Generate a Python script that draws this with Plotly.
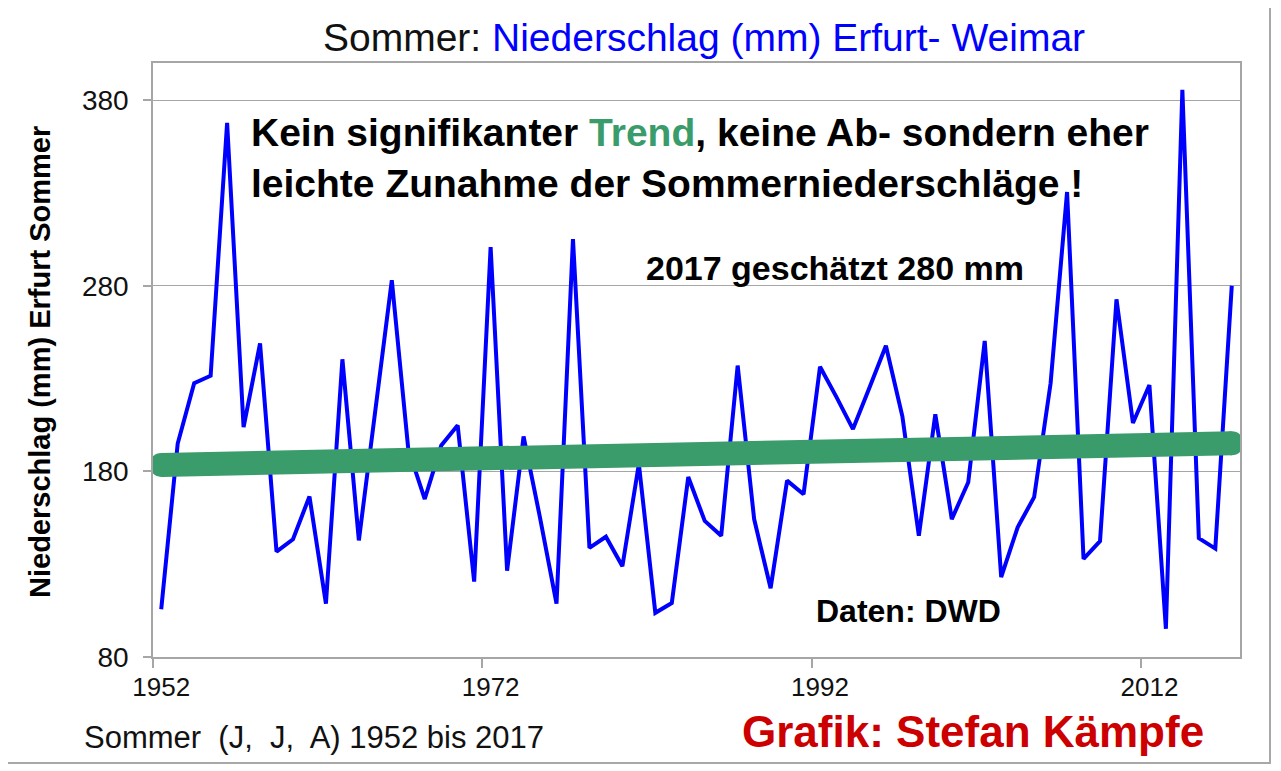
import plotly.graph_objects as go

# ---------------- data ----------------
years = list(range(1952, 2018))
precip_mm = [
    105.7, 195.0, 227.5, 231.5, 367.7, 203.8, 248.9, 136.8, 143.4, 166.5,   # 1952-1961
    108.7, 240.4, 142.8, 211.0, 283.0, 192.0, 165.1, 193.9, 204.8, 120.6,   # 1962-1971
    300.8, 126.5, 198.8, 155.0, 108.7, 305.1, 138.8, 144.8, 128.9, 184.0,   # 1972-1981
    103.8, 109.1, 177.0, 153.3, 145.3, 237.0, 154.3, 117.0, 175.0, 167.7,   # 1982-1991
    236.4, 220.0, 202.8, 225.0, 247.7, 209.7, 145.3, 210.7, 154.3, 174.1,   # 1992-2001
    250.3, 123.0, 149.9, 166.1, 227.5, 330.5, 132.9, 142.4, 272.7, 206.1,   # 2002-2011
    226.5, 95.2, 385.5, 144.0, 138.4, 280.0                                 # 2012-2017
]
trend_years = [1952, 2017]
trend_mm = [183.5, 195.1]

tick_years = [1952, 1972, 1992, 2012]
y_ticks = [80, 180, 280, 380]

# ---------------- style ----------------
FONT = "Liberation Sans, Arial, sans-serif"
BLUE = "#0000FF"
GREEN = "#3A9B6B"
RED = "#CC0000"
GRID = "#a6a6a6"

fig = go.Figure()
fig.add_trace(go.Scatter(
    x=years, y=precip_mm, mode="lines",
    line=dict(color=BLUE, width=4),
    hoverinfo="x+y",
))
fig.add_trace(go.Scatter(
    x=trend_years, y=trend_mm, mode="lines+markers",
    line=dict(color=GREEN, width=24),
    marker=dict(size=24, color=GREEN, line=dict(width=0)),
    hoverinfo="skip",
))

# page geometry (the browser puts the figure at an 8px body margin)
W, H = 1281, 771
OFF = 8
SL, SR, ST, SB = 153, 1240, 63, 657          # plot area on screen
ML, MT = SL - OFF, ST - OFF
MR, MB = W - (SR - OFF), H - (SB - OFF)


def px(x):
    return (x - SL) / (SR - SL)


def py(y):
    return (SB - y) / (SB - ST)


annotations = [
    dict(x=px(704), y=py(38), xref="paper", yref="paper", showarrow=False,
         xanchor="center", yanchor="middle",
         text="Sommer: <span style='color:%s'>Niederschlag (mm) Erfurt- Weimar</span>" % BLUE,
         font=dict(family=FONT, size=39, color="#111111")),
    dict(x=px(249), y=py(158), xref="paper", yref="paper", showarrow=False,
         xanchor="left", yanchor="middle", align="left",
         text="<b>Kein signifikanter <span style='color:%s'>Trend</span>, keine Ab- sondern eher</b><br>"
              "<b>leichte Zunahme der Sommerniederschläge !</b>" % GREEN,
         font=dict(family=FONT, size=39, color="#000000")),
    dict(x=px(835), y=py(268), xref="paper", yref="paper", showarrow=False,
         xanchor="center", yanchor="middle",
         text="<b>2017 geschätzt 280 mm</b>",
         font=dict(family=FONT, size=34, color="#000000")),
    dict(x=px(908), y=py(611), xref="paper", yref="paper", showarrow=False,
         xanchor="center", yanchor="middle",
         text="<b>Daten: DWD</b>",
         font=dict(family=FONT, size=32, color="#000000")),
    dict(x=px(40), y=py(362), xref="paper", yref="paper", showarrow=False,
         xanchor="center", yanchor="middle", textangle=-90,
         text="<b>Niederschlag (mm) Erfurt Sommer</b>",
         font=dict(family=FONT, size=29, color="#000000")),
    dict(x=px(82), y=py(737), xref="paper", yref="paper", showarrow=False,
         xanchor="left", yanchor="middle",
         text="Sommer\u00a0 (J,\u00a0 J,\u00a0 A) 1952 bis 2017",
         font=dict(family=FONT, size=31, color="#111111")),
    dict(x=px(973), y=py(731), xref="paper", yref="paper", showarrow=False,
         xanchor="center", yanchor="middle",
         text="<b>Grafik: Stefan Kämpfe</b>",
         font=dict(family=FONT, size=44, color=RED)),
]

shapes = [
    dict(type="rect", xref="paper", yref="paper",
         x0=px(6), x1=px(1270), y0=py(763), y1=py(7),
         line=dict(color="#a8a8a8", width=2), fillcolor="rgba(0,0,0,0)", layer="below"),
]

fig.update_layout(
    width=W, height=H, autosize=False,
    margin=dict(l=ML, r=MR, t=MT, b=MB, pad=0),
    paper_bgcolor="white", plot_bgcolor="white",
    showlegend=False,
    annotations=annotations,
    shapes=shapes,
    xaxis=dict(
        range=[years[0] - 0.5, years[-1] + 0.5],
        tickmode="array",
        tickvals=tick_years,
        ticktext=[str(y) for y in tick_years],
        ticks="",
        minor=dict(
            tickmode="array",
            tickvals=[y - 0.5 for y in tick_years],
            ticks="outside", ticklen=9, tickcolor=GRID, tickwidth=1.5,
            showgrid=False,
        ),
        showline=True, linecolor=GRID, linewidth=1.5, mirror=True,
        showgrid=False, zeroline=False,
        ticklabelstandoff=6,
        tickfont=dict(family=FONT, size=26, color="#111111"),
    ),
    yaxis=dict(
        range=[80, 400],
        tickmode="array", tickvals=y_ticks,
        ticks="outside", ticklen=8, tickcolor=GRID, tickwidth=1.5,
        showline=True, linecolor=GRID, linewidth=1.5, mirror=True,
        showgrid=True, gridcolor=GRID, gridwidth=1.2,
        zeroline=False,
        ticklabelstandoff=9,
        tickfont=dict(family=FONT, size=28, color="#111111"),
    ),
)

fig.write_html("out.html")
